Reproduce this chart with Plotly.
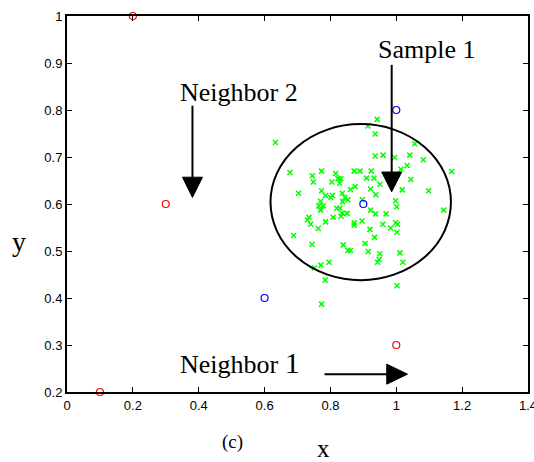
import plotly.graph_objects as go

# green "x" samples (cluster)
gx = [0.942, 0.914, 0.936, 0.633, 1.056, 0.936, 0.960, 0.995, 1.041, 1.082,
      1.033, 1.014, 1.168, 0.677, 0.745, 0.773, 0.816, 0.872, 0.890, 0.924,
      0.748, 0.804, 0.823, 0.831, 0.828, 0.910, 0.932, 1.044, 0.950, 0.861,
      0.875, 0.922, 1.018, 1.098, 0.703, 0.773, 0.785, 0.806, 0.801, 0.836,
      0.844, 0.938, 0.998, 1.001, 0.770, 0.765, 0.778, 0.770, 0.819, 0.829,
      0.836, 0.851, 0.832, 0.808, 0.897, 0.853, 0.837, 0.922, 0.937, 0.969,
      1.144, 0.735, 0.730, 0.740, 0.785, 0.872, 0.896, 0.872, 0.959, 0.998,
      1.004, 0.920, 0.983, 1.002, 0.763, 0.688, 0.934, 0.744, 0.905, 0.839,
      0.853, 0.861, 0.915, 0.950, 1.011, 0.948, 0.943, 1.020, 0.796, 0.771,
      0.751, 0.784, 1.002, 0.773]
gy = [0.780, 0.766, 0.749, 0.731, 0.728, 0.702, 0.704, 0.699, 0.704, 0.694,
      0.682, 0.674, 0.669, 0.667, 0.660, 0.670, 0.665, 0.670, 0.670, 0.670,
      0.647, 0.647, 0.654, 0.654, 0.644, 0.655, 0.655, 0.652, 0.642, 0.631,
      0.637, 0.632, 0.630, 0.628, 0.623, 0.628, 0.618, 0.618, 0.614, 0.623,
      0.614, 0.620, 0.607, 0.594, 0.606, 0.596, 0.596, 0.587, 0.591, 0.591,
      0.580, 0.580, 0.574, 0.572, 0.609, 0.609, 0.605, 0.587, 0.579, 0.579,
      0.587, 0.572, 0.566, 0.557, 0.562, 0.560, 0.564, 0.555, 0.557, 0.560,
      0.557, 0.546, 0.549, 0.540, 0.548, 0.533, 0.529, 0.514, 0.516, 0.513,
      0.501, 0.501, 0.499, 0.494, 0.496, 0.482, 0.476, 0.476, 0.476, 0.470,
      0.464, 0.438, 0.426, 0.387]

# blue circles
bx = [1.0, 0.9, 0.6]
by = [0.8, 0.6, 0.4]
# red circles
rx = [0.2, 0.3, 1.0, 0.1]
ry = [1.0, 0.6, 0.3, 0.2]

x_ticks = [0, 0.2, 0.4, 0.6, 0.8, 1.0, 1.2, 1.4]
x_tick_labels = ["0", "0.2", "0.4", "0.6", "0.8", "1", "1.2", "1.4"]
y_ticks = [0.2, 0.3, 0.4, 0.5, 0.6, 0.7, 0.8, 0.9, 1.0]
y_tick_labels = ["0.2", "0.3", "0.4", "0.5", "0.6", "0.7", "0.8", "0.9", "1"]

# ellipse (bounding box in data units)
ell = dict(x0=0.618, x1=1.166, y0=0.438, y1=0.770)

fig = go.Figure()
fig.add_trace(go.Scatter(x=gx, y=gy, mode="markers", cliponaxis=False,
                         marker=dict(symbol="x-thin", size=5, color="#00ff00",
                                     line=dict(color="#00ff00", width=1.5))))
fig.add_trace(go.Scatter(x=bx, y=by, mode="markers", cliponaxis=False,
                         marker=dict(symbol="circle-open", size=7, color="#0000ff",
                                     line=dict(width=1.2))))
fig.add_trace(go.Scatter(x=rx, y=ry, mode="markers", cliponaxis=False,
                         marker=dict(symbol="circle-open", size=7, color="#ff0000",
                                     line=dict(width=1.2))))

shapes = []
shapes.append(dict(type="circle", xref="x", yref="y", **ell,
                   line=dict(color="black", width=2)))


def v_arrow(x, y_top, y_base, y_tip, hw):
    return [
        dict(type="line", xref="x", yref="y", x0=x, x1=x, y0=y_top, y1=y_base,
             line=dict(color="black", width=2)),
        dict(type="path", xref="x", yref="y",
             path=f"M {x-hw} {y_base} L {x+hw} {y_base} L {x} {y_tip} Z",
             fillcolor="black", line=dict(color="black", width=1)),
    ]


def h_arrow(y, x_start, x_base, x_tip, hh):
    return [
        dict(type="line", xref="x", yref="y", x0=x_start, x1=x_base, y0=y, y1=y,
             line=dict(color="black", width=2)),
        dict(type="path", xref="x", yref="y",
             path=f"M {x_base} {y-hh} L {x_base} {y+hh} L {x_tip} {y} Z",
             fillcolor="black", line=dict(color="black", width=1)),
    ]


shapes += v_arrow(0.986, 0.896, 0.668, 0.626, 0.0304)
shapes += v_arrow(0.381, 0.809, 0.657, 0.614, 0.0304)
shapes += h_arrow(0.238, 0.782, 0.971, 1.034, 0.0213)

serif = "Liberation Serif, Times New Roman, serif"
annotations = [
    dict(text="Sample 1", x=1.092, y=0.928, xref="x", yref="y", showarrow=False,
         font=dict(family=serif, size=26, color="black")),
    dict(text="Neighbor 2", x=0.522, y=0.838, xref="x", yref="y", showarrow=False,
         font=dict(family=serif, size=26, color="black")),
    dict(text='Neighbor <span style="font-size:30px">1</span>', x=0.524, y=0.262,
         xref="x", yref="y", showarrow=False,
         font=dict(family=serif, size=26, color="black")),
    dict(text="(c)", x=0.360, y=-0.168, xref="paper", yref="paper", showarrow=False,
         font=dict(family=serif, size=19, color="black")),
    dict(text="x", x=0.556, y=-0.150, xref="paper", yref="paper", showarrow=False,
         yanchor="middle",
         font=dict(family=serif, size=25, color="black")),
    dict(text="y", x=-0.123, y=0.40, xref="paper", yref="paper", showarrow=False,
         font=dict(family=serif, size=28, color="black")),
]

axis_common = dict(showline=True, linecolor="black", linewidth=2, mirror="ticks",
                   ticks="inside", ticklen=5, tickwidth=1, tickcolor="black",
                   showgrid=False, zeroline=False, ticklabeloverflow="allow",
                   automargin=False,
                   tickfont=dict(family="Liberation Sans, Arial, sans-serif",
                                 size=13, color="black"))

fig.update_layout(
    width=534, height=462,
    margin=dict(l=67, r=6, t=16, b=70),
    paper_bgcolor="white", plot_bgcolor="white",
    showlegend=False,
    shapes=shapes, annotations=annotations,
    xaxis=dict(range=[0, 1.4], tickvals=x_ticks, ticktext=x_tick_labels, **axis_common),
    yaxis=dict(range=[0.2, 1.0], tickvals=y_ticks, ticktext=y_tick_labels, **axis_common),
)

fig.write_html("out.html")
